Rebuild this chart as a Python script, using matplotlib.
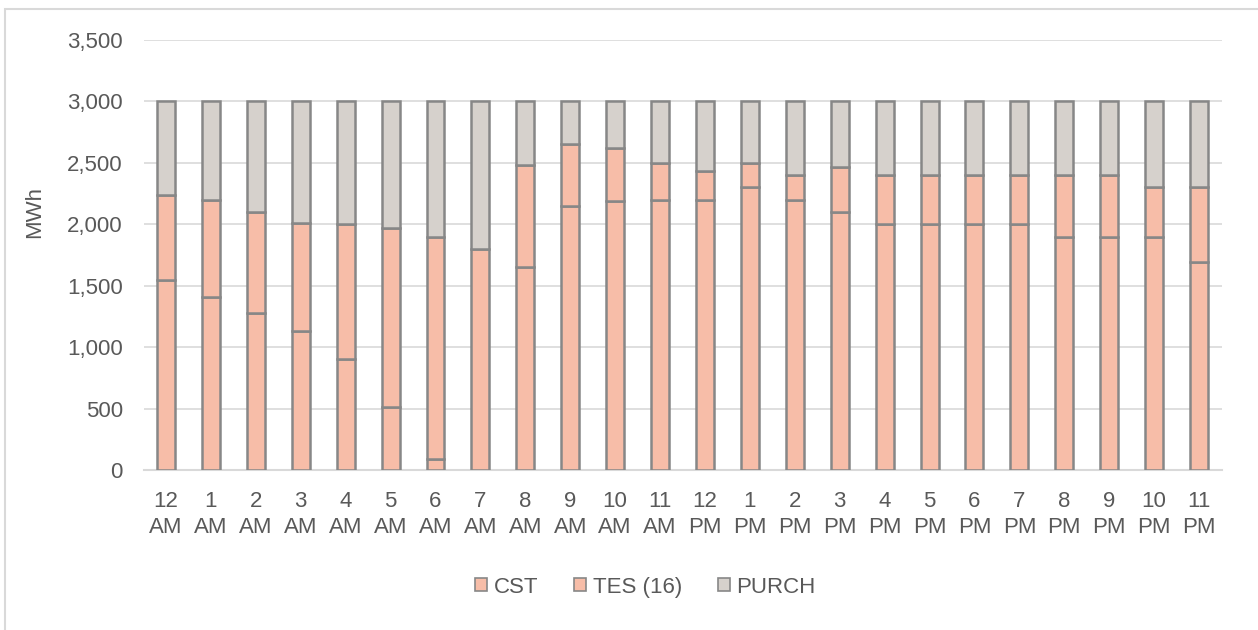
import matplotlib.pyplot as plt
import numpy as np
from matplotlib.patches import Rectangle
from matplotlib.ticker import FuncFormatter

plt.rcParams['font.family'] = ['Liberation Sans', 'DejaVu Sans']

hours = ['12\nAM', '1\nAM', '2\nAM', '3\nAM', '4\nAM', '5\nAM', '6\nAM', '7\nAM',
         '8\nAM', '9\nAM', '10\nAM', '11\nAM', '12\nPM', '1\nPM', '2\nPM', '3\nPM',
         '4\nPM', '5\nPM', '6\nPM', '7\nPM', '8\nPM', '9\nPM', '10\nPM', '11\nPM']
cst = [1550, 1410, 1280, 1130, 900, 510, 90, 0,
       1650, 2150, 2190, 2200, 2200, 2300, 2200, 2100,
       2000, 2000, 2000, 2000, 1900, 1900, 1900, 1690]
tes = [690, 790, 820, 880, 1100, 1460, 1810, 1800,
       830, 500, 430, 300, 230, 200, 200, 370,
       400, 400, 400, 400, 500, 500, 400, 610]
purch = [760, 800, 900, 990, 1000, 1030, 1100, 1200,
         520, 350, 380, 500, 570, 500, 600, 530,
         600, 600, 600, 600, 600, 600, 700, 700]

salmon = '#F7BDA8'
grey_fill = '#D6D1CC'
edge = '#878787'
txt = '#595959'
fs = 16

fig = plt.figure(figsize=(12.58, 6.30), dpi=100)
ax = fig.add_axes([0.1141, 0.254, 0.8569, 0.6825])

x = np.arange(len(hours))
cst = np.array(cst)
tes = np.array(tes)
purch = np.array(purch)
w = 0.4
kw = dict(width=w, edgecolor=edge, linewidth=1.8, zorder=3)
ax.bar(x, cst, color=salmon, label='CST', **kw)
ax.bar(x, tes, bottom=cst, color=salmon, label='TES (16)', **kw)
ax.bar(x, purch, bottom=cst + tes, color=grey_fill, label='PURCH', **kw)

ax.set_xlim(-0.5, len(hours) - 0.5)
ax.set_ylim(0, 3500)
ax.set_yticks(np.arange(0, 3501, 500))
ax.yaxis.set_major_formatter(FuncFormatter(lambda v, p: f'{int(v):,}'))
ax.set_xticks(x)
ax.set_xticklabels(hours, linespacing=1.35)
ax.grid(axis='y', color='#D9D9D9', linewidth=1.2, zorder=0)
ax.tick_params(axis='both', length=0, labelsize=fs, colors=txt)
ax.tick_params(axis='y', pad=15)
ax.tick_params(axis='x', pad=15)
for s in ['top', 'right', 'left']:
    ax.spines[s].set_visible(False)
ax.spines['bottom'].set_color('#D9D9D9')
ax.spines['bottom'].set_linewidth(1.5)
ax.set_ylabel('MWh', fontsize=fs, color=txt)
ax.yaxis.set_label_coords(-0.091, 0.6)

leg = fig.legend(loc='center', bbox_to_anchor=(0.513, 0.068), ncol=3, frameon=False,
                 fontsize=fs, handlelength=0.55, handleheight=0.55,
                 handletextpad=0.3, columnspacing=1.6)
for t in leg.get_texts():
    t.set_color(txt)
for h in leg.legend_handles:
    h.set_linewidth(1.2)

# chart frame
fig.patches.append(Rectangle((4.5 / 1258, -0.1), 1.2, 1 - 9 / 630 + 0.1,
                             transform=fig.transFigure, fill=False,
                             edgecolor='#D9D9D9', linewidth=1.5))

fig.savefig('out.png', dpi=100)
